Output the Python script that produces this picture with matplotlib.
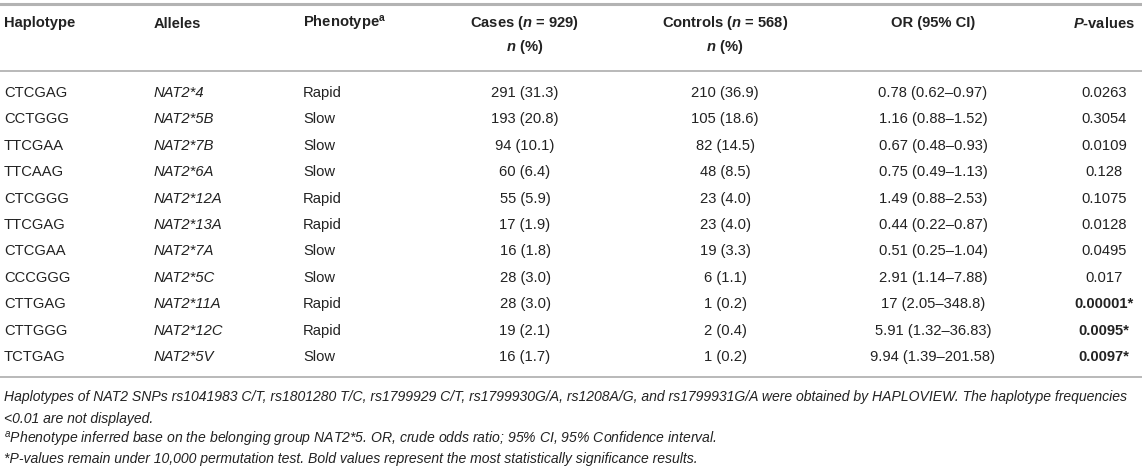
import matplotlib
matplotlib.use('Agg')
import matplotlib.pyplot as plt

plt.rcParams['font.family'] = 'Liberation Sans'
plt.rcParams['mathtext.fontset'] = 'custom'
plt.rcParams['mathtext.rm'] = 'Liberation Sans'
plt.rcParams['mathtext.it'] = 'Liberation Sans:italic'
plt.rcParams['mathtext.bf'] = 'Liberation Sans:bold'
plt.rcParams['mathtext.bfit'] = 'Liberation Sans:italic:bold'

haplotypes = ["CTCGAG", "CCTGGG", "TTCGAA", "TTCAAG", "CTCGGG", "TTCGAG",
              "CTCGAA", "CCCGGG", "CTTGAG", "CTTGGG", "TCTGAG"]
alleles = ["NAT2*4", "NAT2*5B", "NAT2*7B", "NAT2*6A", "NAT2*12A", "NAT2*13A",
           "NAT2*7A", "NAT2*5C", "NAT2*11A", "NAT2*12C", "NAT2*5V"]
phenotypes = ["Rapid", "Slow", "Slow", "Slow", "Rapid", "Rapid",
              "Slow", "Slow", "Rapid", "Rapid", "Slow"]
cases = ["291 (31.3)", "193 (20.8)", "94 (10.1)", "60 (6.4)", "55 (5.9)", "17 (1.9)",
         "16 (1.8)", "28 (3.0)", "28 (3.0)", "19 (2.1)", "16 (1.7)"]
controls = ["210 (36.9)", "105 (18.6)", "82 (14.5)", "48 (8.5)", "23 (4.0)", "23 (4.0)",
            "19 (3.3)", "6 (1.1)", "1 (0.2)", "2 (0.4)", "1 (0.2)"]
odds = ["0.78 (0.62\u20130.97)", "1.16 (0.88\u20131.52)", "0.67 (0.48\u20130.93)",
        "0.75 (0.49\u20131.13)", "1.49 (0.88\u20132.53)", "0.44 (0.22\u20130.87)",
        "0.51 (0.25\u20131.04)", "2.91 (1.14\u20137.88)", "17 (2.05\u2013348.8)",
        "5.91 (1.32\u201336.83)", "9.94 (1.39\u2013201.58)"]
pvalues = ["0.0263", "0.3054", "0.0109", "0.128", "0.1075", "0.0128",
           "0.0495", "0.017", "0.00001*", "0.0095*", "0.0097*"]
significant = [False] * 8 + [True] * 3

headers = ["Haplotype", "Alleles", r"Phenotype$^{\mathbf{a}}$",
           r"Cases ($\mathbfit{n}$ = 929)", r"Controls ($\mathbfit{n}$ = 568)",
           "OR (95% CI)", r"$\mathbfit{P}$-values"]
subheaders = ["", "", "", r"$\mathbfit{n}$ (%)", r"$\mathbfit{n}$ (%)", "", ""]

notes = [
    "Haplotypes of NAT2 SNPs rs1041983 C/T, rs1801280 T/C, rs1799929 C/T, rs1799930G/A, "
    "rs1208A/G, and rs1799931G/A were obtained by HAPLOVIEW. The haplotype frequencies",
    "<0.01 are not displayed.",
    r"$^{a}$Phenotype inferred base on the belonging group NAT2*5. OR, crude odds ratio; "
    "95% CI, 95% Confidence interval.",
    "*P-values remain under 10,000 permutation test. Bold values represent the most "
    "statistically significance results.",
]

W, H = 1142, 466
col_x = [4, 154, 303, 525, 725, 933, 1104]
col_ha = ["left", "left", "left", "center", "center", "center", "center"]
ink = "#222222"
rule = "#b3b3b3"
fs = 10.6
base = 4.5  # baseline offset below the row centre, px

fig = plt.figure(figsize=(W / 100, H / 100), dpi=100)
ax = fig.add_axes([0, 0, 1, 1])
ax.set_xlim(0, W)
ax.set_ylim(H, 0)
ax.axis("off")

# rules
ax.axhline(3.5, color=rule, lw=2.2)
ax.axhline(70.7, color=rule, lw=1.3)
ax.axhline(377, color=rule, lw=1.3)

# header
for x, ha, h, s in zip(col_x, col_ha, headers, subheaders):
    ax.text(x, 23 + base, h, ha=ha, va="baseline", fontsize=fs,
            fontweight="bold", color=ink)
    if s:
        ax.text(x, 47 + base, s, ha=ha, va="baseline", fontsize=fs,
                fontweight="bold", color=ink)

# body
y0, dy = 92.5, 26.4
columns = [haplotypes, alleles, phenotypes, cases, controls, odds, pvalues]
for i in range(len(haplotypes)):
    y = y0 + dy * i + base
    for j, (x, ha, col) in enumerate(zip(col_x, col_ha, columns)):
        style = "italic" if j == 1 else "normal"
        weight = "bold" if (j == 6 and significant[i]) else "normal"
        ax.text(x, y, col[i], ha=ha, va="baseline", fontsize=fs,
                fontstyle=style, fontweight=weight, color=ink)

# footnotes
for note, y in zip(notes, [396, 418, 439, 459]):
    ax.text(4, y + base, note, ha="left", va="baseline", fontsize=10.1,
            fontstyle="italic", color=ink)

fig.savefig("out.png", dpi=100)
